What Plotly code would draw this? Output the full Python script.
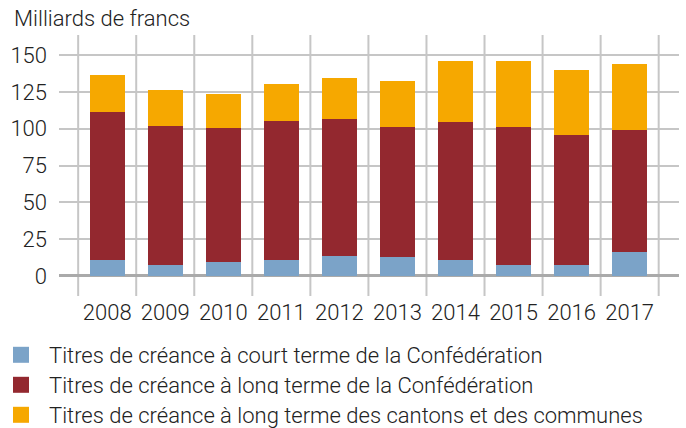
import plotly.graph_objects as go

years = ["2008", "2009", "2010", "2011", "2012", "2013", "2014", "2015", "2016", "2017"]
court_terme_conf = [10.6, 7.2, 9.3, 10.6, 13.3, 12.7, 10.6, 7.2, 7.2, 16.0]
long_terme_conf = [100.8, 94.8, 91.3, 94.7, 93.4, 88.6, 94.1, 94.1, 88.7, 83.3]
long_terme_cantons = [25.1, 24.3, 23.0, 25.1, 27.7, 31.1, 41.2, 44.6, 43.9, 44.6]

names = [
    "Titres de créance à court terme de la Confédération",
    "Titres de créance à long terme de la Confédération",
    "Titres de créance à long terme des cantons et des communes",
]
colors = ["#7BA3C8", "#93282F", "#F6A800"]
series = [court_terme_conf, long_terme_conf, long_terme_cantons]
legend_ids = ["legend", "legend2", "legend3"]
legend_rows = [354, 384, 414]  # centre of each legend line, px from top

FONT = "Roboto"
TXT = "#222222"
FS = 22
legend_font = dict(family=FONT, size=FS, color=TXT, weight=300)

fig = go.Figure()
for name, vals, col, lg in zip(names, series, colors, legend_ids):
    fig.add_trace(go.Bar(x=list(range(len(years))), y=vals, name=name,
                         marker=dict(color=col, line=dict(width=0)),
                         width=0.6, showlegend=False))
    # legend proxy with bigger square symbol
    fig.add_trace(go.Scatter(x=[None], y=[None], mode="markers", name=name, legend=lg,
                             marker=dict(symbol="square", size=16, color=col)))

# vertical separators between years
for i in range(len(years) + 1):
    fig.add_shape(type="line", xref="x", yref="paper", x0=i - 0.5, x1=i - 0.5,
                  y0=0, y1=1, line=dict(color="#c6c6c6", width=2), layer="below")

legends = {}
for lg, row in zip(legend_ids, legend_rows):
    legends[lg] = dict(xref="paper", yref="container", x=(-7 - 59) / 620, xanchor="left",
                       y=1 - (row - 20) / 428, yanchor="top", itemwidth=46,
                       font=legend_font)

fig.update_layout(
    width=686, height=428,
    margin=dict(l=59, r=7, t=35, b=132, autoexpand=False),
    barmode="stack",
    plot_bgcolor="white", paper_bgcolor="white",
    font=dict(family=FONT, size=FS, color=TXT, weight=300),
    title=dict(text="Milliards de francs", xref="container", yref="container",
               x=14 / 686, xanchor="left", y=1 - 18 / 428, yanchor="middle",
               font=dict(family=FONT, size=FS, color=TXT, weight=300)),
    showlegend=True,
    **legends,
)
fig.update_xaxes(range=[-0.83, 9.85], tickvals=list(range(len(years))), ticktext=years,
                 showgrid=False, zeroline=False, showline=False, ticks="",
                 ticklabelstandoff=1, fixedrange=True)
fig.update_yaxes(range=[-13.6, 163.7], tickvals=[0, 25, 50, 75, 100, 125, 150],
                 showgrid=True, gridcolor="#c6c6c6", gridwidth=2,
                 zeroline=True, zerolinecolor="#aaaaaa", zerolinewidth=3,
                 showline=False, ticks="", ticklabelstandoff=11, fixedrange=True)

# drop the default 8px body margin so the figure sits at the window corner
fig.write_html("out.html", config={"displayModeBar": False},
               post_script="document.body.style.margin='0';")
